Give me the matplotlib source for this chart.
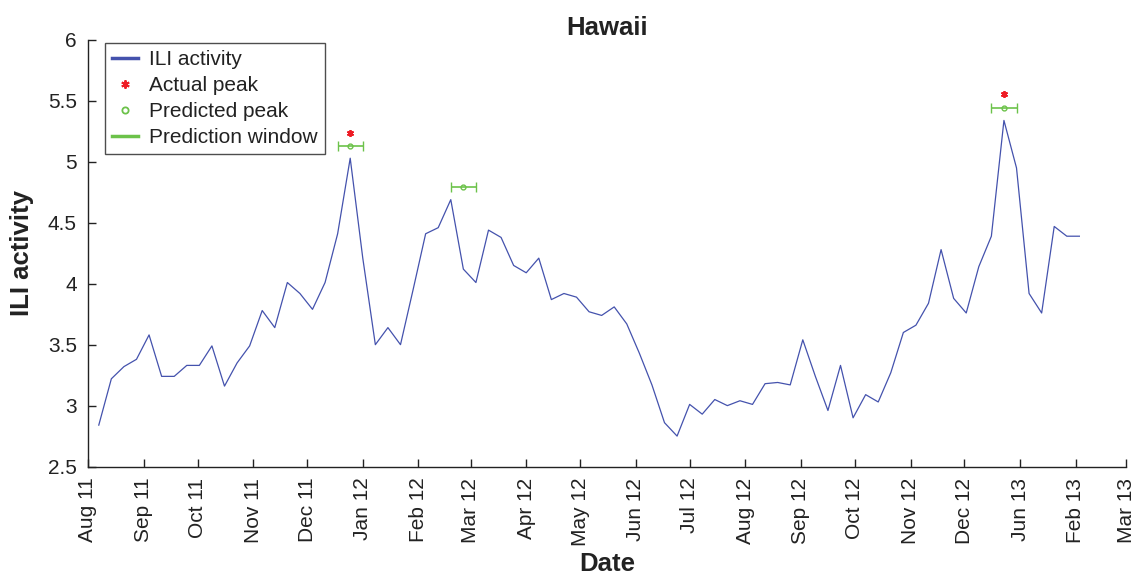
import numpy as np
import pandas as pd
import matplotlib
matplotlib.use("Agg")
import matplotlib.pyplot as plt
from matplotlib.lines import Line2D
from matplotlib.ticker import FormatStrFormatter

plt.rcParams['font.family'] = ['Liberation Sans', 'DejaVu Sans']

# Weekly ILI activity for Hawaii, weeks starting 7 Aug 2011
first_week = "2011-08-07"
ili_values = [
    2.84, 3.22, 3.32, 3.38, 3.58, 3.24, 3.24, 3.33, 3.33, 3.49,
    3.16, 3.35, 3.49, 3.78, 3.64, 4.01, 3.92, 3.79, 4.01, 4.41,
    5.03, 4.21, 3.50, 3.64, 3.50, 3.95, 4.41, 4.46, 4.69, 4.12,
    4.01, 4.44, 4.38, 4.15, 4.09, 4.21, 3.87, 3.92, 3.89, 3.77,
    3.74, 3.81, 3.67, 3.43, 3.17, 2.86, 2.75, 3.01, 2.93, 3.05,
    3.00, 3.04, 3.01, 3.18, 3.19, 3.17, 3.54, 3.24, 2.96, 3.33,
    2.90, 3.09, 3.03, 3.27, 3.60, 3.66, 3.84, 4.28, 3.88, 3.76,
    4.14, 4.39, 5.34, 4.95, 3.92, 3.76, 4.47, 4.39, 4.39,
]

# Observed season peaks (marker dates and heights)
actual_peak_dates = ["2011-12-25", "2012-12-23"]
actual_peak_marks = [5.235, 5.555]

# Predicted peaks with a +/- one week prediction window
predicted_peak_dates = ["2011-12-25", "2012-02-26", "2012-12-23"]
predicted_peak_marks = [5.13, 4.79, 5.44]
window_days = 7

# Axis ticks: first of each month with their printed labels
tick_dates = pd.date_range("2011-08-01", "2013-03-01", freq="MS")
tick_labels = ["Aug 11", "Sep 11", "Oct 11", "Nov 11", "Dec 11", "Jan 12",
               "Feb 12", "Mar 12", "Apr 12", "May 12", "Jun 12", "Jul 12",
               "Aug 12", "Sep 12", "Oct 12", "Nov 12", "Dec 12", "Jun 13",
               "Feb 13", "Mar 13"]

line_blue = "#4452ad"
green = "#6cc24a"
red = "#ee1c25"
asterisk = (6, 2, 0)

weeks = pd.date_range(first_week, periods=len(ili_values), freq="7D")

fig = plt.figure(figsize=(11.34, 5.76), dpi=100)
ax = fig.add_axes([0.0776, 0.19, 0.9154, 0.7406])

ax.plot(weeks, ili_values, color=line_blue, lw=0.9)

pred_x = pd.to_datetime(predicted_peak_dates)
ax.errorbar(pred_x, predicted_peak_marks, xerr=pd.Timedelta(days=window_days),
            fmt='o', mfc='none', mec=green, color=green, ms=3.5, mew=1.0,
            elinewidth=1.2, capsize=3.5, capthick=1.2)
ax.plot(pd.to_datetime(actual_peak_dates), actual_peak_marks, marker=asterisk,
        ls='none', color=red, ms=5, mew=1.3)

ax.set_xlim(pd.Timestamp("2011-08-01"), pd.Timestamp("2013-03-01"))
ax.set_ylim(2.5, 6)
ax.set_yticks(np.arange(2.5, 6.01, 0.5))
ax.yaxis.set_major_formatter(FormatStrFormatter('%g'))
ax.set_xticks(tick_dates)
ax.set_xticklabels(tick_labels, rotation=90, va='top', ha='center')

ax.tick_params(axis='both', direction='in', length=6, width=1,
               labelsize=15, colors='#222222', pad=8)
ax.tick_params(axis='y', pad=8)
for side in ('top', 'right'):
    ax.spines[side].set_visible(False)
for side in ('left', 'bottom'):
    ax.spines[side].set_linewidth(1.0)
    ax.spines[side].set_color('#222222')

ax.set_title("Hawaii", fontsize=18.5, fontweight='bold', color='#222222', pad=-2)
ax.set_ylabel("ILI activity", fontsize=18.5, fontweight='bold', color='#222222', labelpad=10)
ax.set_xlabel("Date", fontsize=18.5, fontweight='bold', color='#222222', labelpad=4)

handles = [
    Line2D([], [], color=line_blue, lw=2.5),
    Line2D([], [], color=red, marker=asterisk, ls='none', ms=6, mew=1.4),
    Line2D([], [], color=green, marker='o', mfc='none', ls='none', ms=4.5, mew=1.3),
    Line2D([], [], color=green, lw=2.5),
]
leg = ax.legend(handles, ["ILI activity", "Actual peak", "Predicted peak", "Prediction window"],
                loc='upper left', bbox_to_anchor=(0.016, 0.993), fontsize=15,
                frameon=True, fancybox=False, borderpad=0.35, labelspacing=0.33,
                handlelength=1.25, handletextpad=0.55, borderaxespad=0)
leg.get_frame().set_edgecolor('#222222')
leg.get_frame().set_linewidth(1.0)
for t in leg.get_texts():
    t.set_color('#222222')

fig.savefig("out.png", dpi=100)
